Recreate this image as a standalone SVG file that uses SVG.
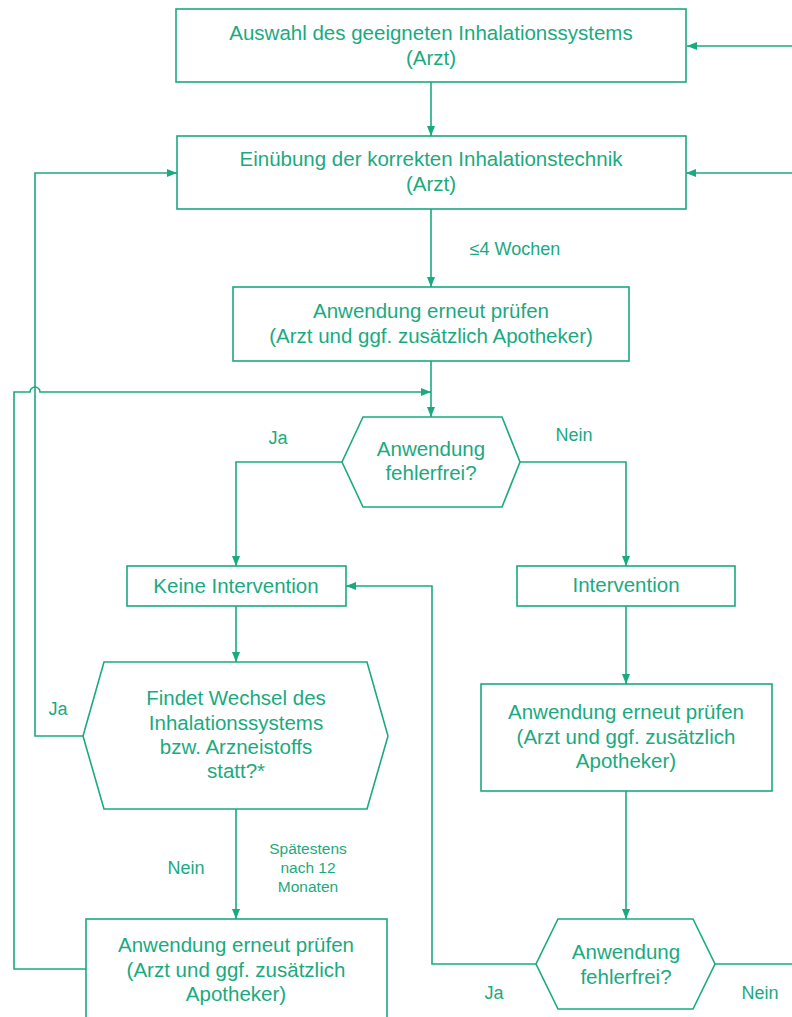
<svg xmlns="http://www.w3.org/2000/svg" width="792" height="1017" viewBox="0 0 792 1017">
<style>
.n{fill:#fff;stroke:#1aaa80;stroke-width:1.6}
.c{fill:none;stroke:#1aaa80;stroke-width:1.6}
text{font-family:"Liberation Sans",Arial,sans-serif;fill:#1aaa80;text-anchor:middle}
.t{font-size:20.5px}
.l{font-size:18px}
.s{font-size:15.5px}
</style>
<defs>
<marker id="a" viewBox="0 0 10 10" refX="10" refY="5" markerWidth="10" markerHeight="10" markerUnits="userSpaceOnUse" orient="auto">
<path d="M0,1 L10,5 L0,9 Z" fill="#1aaa80"/>
</marker>
</defs>
<g id="connectors">
<path class="c" d="M792,46 H687" marker-end="url(#a)"/>
<path class="c" d="M792,173 H686" marker-end="url(#a)"/>
<path class="c" d="M431,82 V136" marker-end="url(#a)"/>
<path class="c" d="M431,209 V287" marker-end="url(#a)"/>
<path class="c" d="M431,361 V417" marker-end="url(#a)"/>
<path class="c" d="M86,969 H14 V392 H30 A5,5 0 0 1 40,392 H431" marker-end="url(#a)"/>
<path class="c" d="M83,736 H35 V173 H177" marker-end="url(#a)"/>
<path class="c" d="M342,462 H236 V566" marker-end="url(#a)"/>
<path class="c" d="M520,462 H626 V566" marker-end="url(#a)"/>
<path class="c" d="M236,606 V662" marker-end="url(#a)"/>
<path class="c" d="M236,809 V919" marker-end="url(#a)"/>
<path class="c" d="M626,606 V684" marker-end="url(#a)"/>
<path class="c" d="M626,791 V919" marker-end="url(#a)"/>
<path class="c" d="M536,964 H432 V586 H346" marker-end="url(#a)"/>
<path class="c" d="M715,964 H792"/>
<text class="l" x="515" y="255">≤4 Wochen</text>
<text class="l" x="278" y="444">Ja</text>
<text class="l" x="574" y="441">Nein</text>
<text class="l" x="58" y="715">Ja</text>
<text class="l" x="186" y="874">Nein</text>
<text class="s" x="308" y="854">Spätestens</text>
<text class="s" x="308" y="873">nach 12</text>
<text class="s" x="308" y="892">Monaten</text>
<text class="l" x="494" y="999">Ja</text>
<text class="l" x="760" y="999">Nein</text>
</g>
<g id="box1">
<rect class="n" x="176" y="9" width="510" height="73"/>
<text class="t" x="431" y="40">Auswahl des geeigneten Inhalationssystems</text>
<text class="t" x="431" y="65">(Arzt)</text>
</g>
<g id="box2">
<rect class="n" x="177" y="136" width="509" height="73"/>
<text class="t" x="431" y="166">Einübung der korrekten Inhalationstechnik</text>
<text class="t" x="431" y="191">(Arzt)</text>
</g>
<g id="box3">
<rect class="n" x="233" y="287" width="396" height="74"/>
<text class="t" x="431" y="318">Anwendung erneut prüfen</text>
<text class="t" x="431" y="343">(Arzt und ggf. zusätzlich Apotheker)</text>
</g>
<g id="hex1">
<polygon class="n" points="363,417 502,417 520,462 502,507 363,507 342,462"/>
<text class="t" x="431" y="456">Anwendung</text>
<text class="t" x="431" y="480">fehlerfrei?</text>
</g>
<g id="keine">
<rect class="n" x="127" y="566" width="219" height="40"/>
<text class="t" x="236" y="593">Keine Intervention</text>
</g>
<g id="intervention">
<rect class="n" x="517" y="566" width="218" height="40"/>
<text class="t" x="626" y="592">Intervention</text>
</g>
<g id="hex2">
<polygon class="n" points="104,662 367,662 388,736 367,809 104,809 83,736"/>
<text class="t" x="236" y="705">Findet Wechsel des</text>
<text class="t" x="236" y="730">Inhalationssystems</text>
<text class="t" x="236" y="754">bzw. Arzneistoffs</text>
<text class="t" x="236" y="778">statt?*</text>
</g>
<g id="box6">
<rect class="n" x="481" y="684" width="291" height="107"/>
<text class="t" x="626" y="719">Anwendung erneut prüfen</text>
<text class="t" x="626" y="744">(Arzt und ggf. zusätzlich</text>
<text class="t" x="626" y="768">Apotheker)</text>
</g>
<g id="box5">
<rect class="n" x="86" y="919" width="301" height="110"/>
<text class="t" x="236" y="952">Anwendung erneut prüfen</text>
<text class="t" x="236" y="977">(Arzt und ggf. zusätzlich</text>
<text class="t" x="236" y="1001">Apotheker)</text>
</g>
<g id="hex3">
<polygon class="n" points="558,919 693,919 715,964 693,1009 558,1009 536,964"/>
<text class="t" x="626" y="959">Anwendung</text>
<text class="t" x="626" y="984">fehlerfrei?</text>
</g>
</svg>
